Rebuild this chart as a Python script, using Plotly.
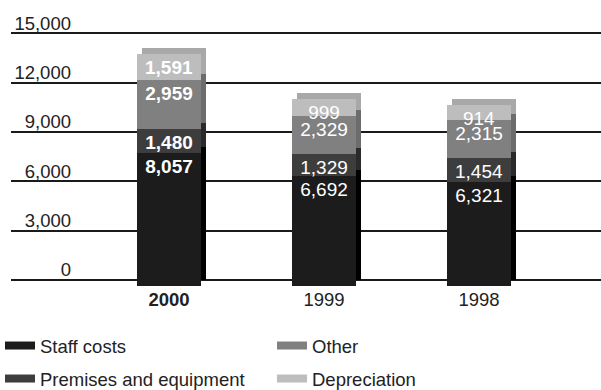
import plotly.graph_objects as go

# ---- data ----
years = ["2000", "1999", "1998"]
staff_costs = [8057, 6692, 6321]
premises = [1480, 1329, 1454]
other = [2959, 2329, 2315]
depreciation = [1591, 999, 914]
y_ticks = [0, 3000, 6000, 9000, 12000, 15000]

series = [
    ("Staff costs", staff_costs, "#1c1c1c", "#000000"),
    ("Premises and equipment", premises, "#3d3d3d", "#2a2a2a"),
    ("Other", other, "#808080", "#6c6c6c"),
    ("Depreciation", depreciation, "#bdbdbd", "#a8a8a8"),
]

FONT = "Liberation Sans, Arial, sans-serif"
TXT = "#222222"

# ---- geometry (layout only) ----
W, H = 601, 390
L, R, T, B = 11, 0, 30, 104
plot_w = W - L - R
plot_h = H - T - B
px_per_unit = 246.7 / 15000.0       # vertical scale
cat_px = 155.0                       # distance between bars
first_center_px = 169 - L            # front face centre of first bar
depth_x, depth_y = 5, 6              # 3D depth offset
bar_w = 64 / cat_px

fx0 = -first_center_px / cat_px
front_xrange = [fx0, fx0 + plot_w / cat_px]
bx0 = -(first_center_px + depth_x) / cat_px
back_xrange = [bx0, bx0 + plot_w / cat_px]
front_yrange = [0, plot_h / px_per_unit]
back_yrange = [-depth_y / px_per_unit, (plot_h - depth_y) / px_per_unit]

fig = go.Figure()

# back (side/top faces) bars on the back axes
for name, vals, col, side in series:
    fig.add_trace(go.Bar(
        x=years, y=vals, width=bar_w, marker=dict(color=side, line=dict(width=0)),
        xaxis="x", yaxis="y", showlegend=False, hoverinfo="skip",
    ))

# front faces
for name, vals, col, side in series:
    texts = [f"<b>{v:,}</b>" if i == 0 else f"{v:,}" for i, v in enumerate(vals)]
    fig.add_trace(go.Bar(
        x=years, y=vals, width=bar_w, name=name,
        marker=dict(color=col, line=dict(width=0)),
        text=texts, textposition="inside", insidetextanchor="end",
        constraintext="none", textangle=0,
        textfont=dict(family=FONT, size=19, color="white"),
        xaxis="x2", yaxis="y2", showlegend=False,
    ))

# legend entries
legend_rows = {"Staff costs": "legend", "Other": "legend",
               "Premises and equipment": "legend2", "Depreciation": "legend2"}
for name, vals, col, side in [series[0], series[2], series[1], series[3]]:
    fig.add_trace(go.Scatter(
        x=[None], y=[None], mode="lines", name=name,
        line=dict(color=col, width=8), legend=legend_rows[name],
        xaxis="x2", yaxis="y2",
    ))

legend_common = dict(
    orientation="h", xanchor="left", yanchor="top", traceorder="normal",
    xref="container", yref="container", x=0,
    entrywidth=227, entrywidthmode="pixels",
    font=dict(family=FONT, size=18.5, color=TXT),
    bgcolor="rgba(0,0,0,0)", borderwidth=0, itemclick=False,
)

fig.update_layout(
    width=W, height=H,
    margin=dict(l=L, r=R, t=T, b=B, pad=0, autoexpand=False),
    paper_bgcolor="white", plot_bgcolor="rgba(0,0,0,0)",
    barmode="stack", bargap=0,
    font=dict(family=FONT, size=18.5, color=TXT),
    xaxis=dict(type="category", range=back_xrange, showgrid=False, zeroline=False,
               showticklabels=False, showline=False, fixedrange=True),
    yaxis=dict(range=back_yrange, tickvals=y_ticks,
               ticktext=[f"{v:,}" for v in y_ticks],
               showgrid=True, gridcolor="#1a1a1a", gridwidth=1.6,
               zeroline=False, showline=False, ticks="",
               anchor="free", position=(71 - L) / plot_w,
               ticklabelshift=-10, ticklabelstandoff=0,
               tickfont=dict(family=FONT, size=18.5, color=TXT), fixedrange=True),
    xaxis2=dict(type="category", overlaying="x", anchor="y2", side="bottom",
                range=front_xrange, showgrid=False, zeroline=False, showline=False,
                tickvals=years,
                ticktext=[f"<b>{y}</b>" if i == 0 else y for i, y in enumerate(years)],
                ticks="", ticklabelstandoff=0,
                tickfont=dict(family=FONT, size=18.5, color=TXT), fixedrange=True),
    yaxis2=dict(overlaying="y", range=front_yrange, showgrid=False, zeroline=False,
                showticklabels=False, showline=False, fixedrange=True),
    legend=dict(legend_common, y=1 - 327 / H),
    legend2=dict(legend_common, y=1 - 360 / H),
)

fig.write_html("out.html")
